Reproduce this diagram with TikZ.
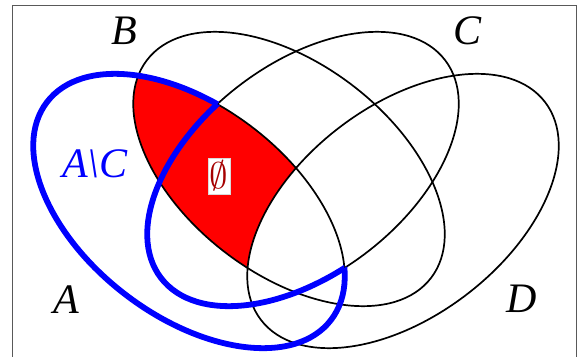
\documentclass[tikz,border=0pt]{standalone}
\usepackage{fontspec}
\setmainfont{Liberation Serif}
\begin{document}
\begin{tikzpicture}[x=1pt,y=1pt,
  ell/.style={draw=black, line width=1.7pt},
  blueline/.style={draw=blue, line width=5.8pt},
  rotA/.style={rotate around={-37.5:(189,145)}},
  rotB/.style={rotate around={-37.5:(289,187)}},
  rotC/.style={rotate around={37.5:(303,187)}},
  rotD/.style={rotate around={37.5:(403,145)}},
  lab/.style={font=\fontsize{42}{42}\selectfont\itshape, inner sep=0pt, anchor=base},
  emptybox/.style={fill=white, draw=black!15, line width=0.5pt, inner xsep=2pt, inner ysep=3pt, text=red!65!black}]
\useasboundingbox (0,0) rectangle (577,356);
\draw[black!65, line width=1pt] (12,-10) rectangle (576,350);
% red region (A and B) minus D
\begin{scope}
  \clip[rotA] (189,145) ellipse [x radius=179, y radius=105];
  \clip[rotB] (289,187) ellipse [x radius=179, y radius=105];
  \fill[red] (0,0) rectangle (577,356);
  \fill[white, rotD] (403,145) ellipse [x radius=179, y radius=105];
\end{scope}
% black outlines
\draw[ell, rotA] (189,145) ellipse [x radius=179, y radius=105];
\draw[ell, rotB] (289,187) ellipse [x radius=179, y radius=105];
\draw[ell, rotC] (303,187) ellipse [x radius=179, y radius=105];
\draw[ell, rotD] (403,145) ellipse [x radius=179, y radius=105];
% blue boundary of A \ C
\begin{scope}[even odd rule]
  \clip[rotC] (-2000,-2000) rectangle (3000,3000) (303,187) ellipse [x radius=179, y radius=105];
  \draw[blueline, rotA] (189,145) ellipse [x radius=179, y radius=105];
\end{scope}
\begin{scope}
  \clip[rotA] (189,145) ellipse [x radius=179, y radius=105];
  \draw[blueline, rotC] (303,187) ellipse [x radius=179, y radius=105];
\end{scope}
% labels
\node[lab] (labB) at (124.5,311) {B};
\node[lab] (labC) at (467,311) {C};
\node[lab] (labA) at (66,43) {A};
\node[lab] (labD) at (522,44) {D};
\node[lab, text=blue] (labAC) at (95,178) {A\textbackslash C};
\node[emptybox] (empty) at (219,180) {\scalebox{3.7}{$\emptyset$}};
\end{tikzpicture}
\end{document}
